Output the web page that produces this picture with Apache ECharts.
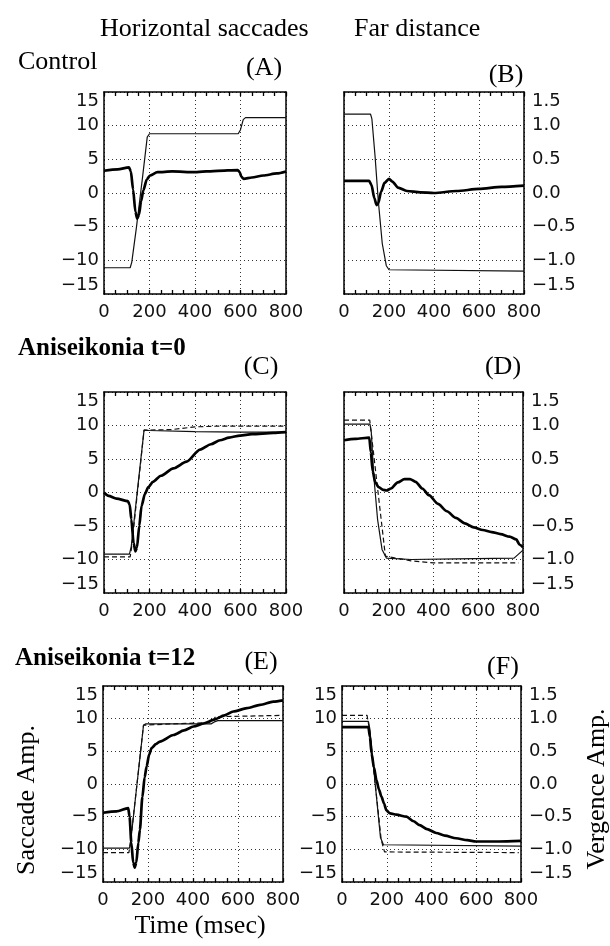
<!DOCTYPE html>
<html>
<head>
<meta charset="utf-8">
<script src="https://cdn.jsdelivr.net/npm/echarts@6/dist/echarts.min.js"></script>
<style>
html, body { margin: 0; padding: 0; background: #fff; }
#chart { width: 610px; height: 946px; }
</style>
</head>
<body>
<div id="chart"></div>
<script>
// axis ranges / ticks
const timeRange = [0, 800, 200];
const saccadeRange = [-15, 15, 5];
const vergenceRange = [-1.5, 1.5, 0.5];

// (A) control, horizontal saccade  [msec, deg]
const aThin = [[0,-11.1],[115,-11.1],[122,-10.3],[143,-5],[170,2.5],[190,8.3],[200,8.8],[590,8.8],[600,9.4],[612,10.9],[622,11.2],[800,11.2]];
const aThick = [[0,3.3],[60,3.5],[110,3.8],[118,3.2],[128,0.5],[138,-2.8],[146,-3.8],[154,-3.2],[163,-1.2],[173,0.4],[188,2.0],[202,2.6],[235,3.1],[300,3.2],[400,3.1],[500,3.3],[588,3.4],[596,3.1],[604,2.4],[614,2.1],[650,2.3],[700,2.6],[760,2.9],[800,3.2]];

// (B) control, far distance vergence
const bThin = [[0,1.17],[118,1.17],[124,1.1],[138,0.55],[152,-0.1],[170,-0.75],[188,-1.08],[200,-1.14],[800,-1.16]];
const bThick = [[0,0.18],[112,0.18],[122,0.12],[135,-0.08],[145,-0.18],[152,-0.15],[165,0.02],[180,0.15],[200,0.21],[215,0.17],[240,0.08],[280,0.03],[340,0.01],[400,0.0],[500,0.03],[600,0.06],[700,0.09],[800,0.11]];

// (C) aniseikonia t=0, saccade
const cThin = [[0,-9.2],[112,-9.2],[120,-8],[176,9.3],[200,9.25],[400,9.1],[600,9.0],[800,9.0]];
const cDashed = [[0,-9.6],[115,-9.6],[121,-8.3],[176,9.3],[300,9.4],[400,9.8],[500,9.9],[800,9.9]];
const cThick = [[0,0],[20,-0.5],[55,-0.9],[105,-1.3],[113,-1.8],[120,-4],[130,-7.5],[138,-8.8],[145,-8.2],[155,-5],[165,-2],[180,-0.2],[195,0.8],[215,1.6],[250,2.5],[305,3.6],[363,4.6],[422,6.4],[470,7.2],[510,7.8],[550,8.2],[598,8.5],[650,8.7],[745,8.9],[800,9.0]];

// (D) aniseikonia t=0, vergence
const dThin = [[0,1.02],[116,1.02],[122,0.9],[133,0.25],[150,-0.4],[170,-0.85],[190,-0.98],[300,-1.0],[500,-0.99],[760,-0.98],[780,-0.92],[800,-0.86]];
const dDashed = [[0,1.08],[115,1.08],[123,0.85],[185,-0.95],[300,-1.02],[400,-1.05],[780,-1.05]];
const dThick = [[0,0.78],[50,0.8],[113,0.82],[120,0.6],[128,0.32],[140,0.15],[155,0.08],[175,0.04],[190,0.03],[210,0.06],[240,0.15],[270,0.2],[295,0.2],[320,0.16],[350,0.06],[380,-0.04],[420,-0.17],[460,-0.28],[500,-0.38],[540,-0.46],[580,-0.52],[620,-0.56],[660,-0.59],[700,-0.62],[740,-0.66],[770,-0.7],[785,-0.78],[800,-0.82]];

// (E) aniseikonia t=12, saccade
const eThin = [[0,-9.8],[118,-9.8],[124,-8.5],[180,9.0],[190,9.2],[480,9.2],[495,9.5],[510,9.7],[800,9.7]];
const eDashed = [[0,-10.5],[115,-10.5],[122,-9],[180,9.0],[300,9.2],[480,9.4],[500,10.3],[800,10.5]];
const eThick = [[0,-4.4],[60,-4.2],[112,-3.7],[118,-5],[126,-9],[134,-12],[141,-12.8],[148,-12],[157,-9],[164,-7],[175,-2],[185,1],[194,2.7],[205,4.5],[216,5.5],[235,6.1],[253,6.5],[313,7.5],[360,8.2],[402,8.8],[450,9.3],[490,9.8],[540,10.5],[579,11.1],[640,11.6],[698,12.1],[757,12.6],[800,12.8]];

// (F) aniseikonia t=12, vergence
const fThin = [[0,0.96],[118,0.96],[124,0.85],[172,-0.82],[185,-0.93],[800,-0.95]];
const fDashed = [[0,1.05],[112,1.05],[122,0.85],[175,-0.85],[190,-1.04],[790,-1.05]];
const fThick = [[0,0.87],[118,0.87],[125,0.72],[132,0.47],[143,0.25],[154,0.06],[165,-0.08],[176,-0.19],[188,-0.3],[198,-0.4],[215,-0.45],[243,-0.47],[288,-0.5],[320,-0.57],[347,-0.63],[380,-0.69],[421,-0.75],[460,-0.79],[510,-0.83],[560,-0.86],[599,-0.88],[700,-0.88],[800,-0.87]];

const panels = [
  { thin: aThin, thick: aThick, dashed: null, vergence: false, leftLabels: true, rightLabels: false },
  { thin: bThin, thick: bThick, dashed: null, vergence: true, leftLabels: false, rightLabels: true },
  { thin: cThin, thick: cThick, dashed: cDashed, vergence: false, leftLabels: true, rightLabels: false },
  { thin: dThin, thick: dThick, dashed: dDashed, vergence: true, leftLabels: false, rightLabels: true },
  { thin: eThin, thick: eThick, dashed: eDashed, vergence: false, leftLabels: true, rightLabels: false },
  { thin: fThin, thick: fThick, dashed: fDashed, vergence: true, leftLabels: true, rightLabels: true },
];

const boxes = [
  { left: 104, top: 92, width: 182, height: 202 },
  { left: 344, top: 92, width: 180, height: 202 },
  { left: 104, top: 392, width: 182, height: 201 },
  { left: 344, top: 392, width: 179, height: 201 },
  { left: 103, top: 686, width: 180, height: 196 },
  { left: 342, top: 686, width: 179, height: 196 },
];

const tickFont = { fontFamily: 'DejaVu Sans', fontSize: 18, color: '#111' };
const serif = 'Liberation Serif';
const minus = v => (v < 0 ? '\u2212' : '') + Math.abs(v);
const dotted = { show: true, lineStyle: { color: '#333', width: 1, type: [1, 3] } };

const grid = [], xAxis = [], yAxis = [], series = [];

panels.forEach((p, i) => {
  grid.push(Object.assign({ show: false }, boxes[i]));

  // top and bottom frame edges carry small inward ticks every 50 ms
  ['bottom', 'top'].forEach(pos => {
    xAxis.push({
      gridIndex: i, type: 'value', position: pos,
      min: timeRange[0], max: timeRange[1], interval: timeRange[2],
      axisLine: { show: true, onZero: false, lineStyle: { color: '#000', width: 1.5 } },
      axisTick: { show: true, inside: true, length: 4, lineStyle: { color: '#000', width: 1.3 } },
      minorTick: { show: true, splitNumber: 4, length: 4, lineStyle: { color: '#000', width: 1.3 } },
      axisLabel: pos === 'bottom' ? Object.assign({ margin: 9 }, tickFont) : { show: false },
      splitLine: pos === 'bottom' ? dotted : { show: false },
    });
  });

  const yBase = {
    gridIndex: i, type: 'value',
    axisLine: { show: true, onZero: false, lineStyle: { color: '#000', width: 1.5 } },
    axisTick: { show: false },
  };
  yAxis.push(Object.assign({}, yBase, {
    position: 'left',
    min: saccadeRange[0], max: saccadeRange[1], interval: saccadeRange[2],
    axisLabel: Object.assign({
      show: p.leftLabels, margin: 5, formatter: minus,
      verticalAlignMinLabel: 'bottom', verticalAlignMaxLabel: 'top',
    }, tickFont),
    splitLine: dotted,
  }));
  yAxis.push(Object.assign({}, yBase, {
    position: 'right',
    min: vergenceRange[0], max: vergenceRange[1], interval: vergenceRange[2],
    axisLabel: Object.assign({
      show: p.rightLabels, margin: 8,
      formatter: v => (v < 0 ? '\u2212' : '') + Math.abs(v).toFixed(1),
      verticalAlignMinLabel: 'bottom', verticalAlignMaxLabel: 'top',
    }, tickFont),
    splitLine: { show: false },
  }));

  const yIdx = p.vergence ? 2 * i + 1 : 2 * i;
  const base = { type: 'line', xAxisIndex: 2 * i, yAxisIndex: yIdx, symbol: 'none', silent: true, animation: false };
  if (p.dashed) {
    series.push(Object.assign({}, base, { data: p.dashed, z: 2, lineStyle: { color: '#111', width: 1.2, type: [5, 3] } }));
  }
  series.push(Object.assign({}, base, { data: p.thin, z: 3, lineStyle: { color: '#111', width: 1.2 } }));
  series.push(Object.assign({}, base, { data: p.thick, z: 4, smooth: 0.25, smoothMonotone: 'x', lineStyle: { color: '#000', width: 2.7 } }));
});

const label = (text, x, y, size, opts) => Object.assign({
  type: 'text', x: x, y: y, silent: true,
  style: Object.assign({ text: text, fill: '#000', font: size + 'px "' + serif + '"', align: 'left', verticalAlign: 'middle' }, (opts && opts.style) || {}),
}, opts && opts.rotation ? { rotation: opts.rotation } : {});

const graphic = [
  label('Horizontal saccades', 100, 29, 26),
  label('Far distance', 354, 29, 26),
  label('Control', 18, 62, 26),
  label('(A)', 264, 68, 26, { style: { align: 'center' } }),
  label('(B)', 506, 75, 26, { style: { align: 'center' } }),
  label('Aniseikonia t=0', 18, 349, 25, { style: { font: 'bold 25px "' + serif + '"' } }),
  label('(C)', 261, 367, 26, { style: { align: 'center' } }),
  label('(D)', 503, 367, 26, { style: { align: 'center' } }),
  label('Aniseikonia t=12', 15, 659, 25, { style: { font: 'bold 25px "' + serif + '"' } }),
  label('(E)', 261, 662, 26, { style: { align: 'center' } }),
  label('(F)', 503, 667, 26, { style: { align: 'center' } }),
  label('Saccade Amp.', 27, 800, 26, { rotation: Math.PI / 2, style: { align: 'center' } }),
  label('Vergence Amp.', 597, 789, 26, { rotation: Math.PI / 2, style: { align: 'center' } }),
  label('Time (msec)', 200, 926, 26, { style: { align: 'center' } }),
];

const chart = echarts.init(document.getElementById('chart'));
chart.setOption({
  animation: false,
  backgroundColor: '#fff',
  grid: grid,
  xAxis: xAxis,
  yAxis: yAxis,
  series: series,
  graphic: graphic,
});
</script>
</body>
</html>
